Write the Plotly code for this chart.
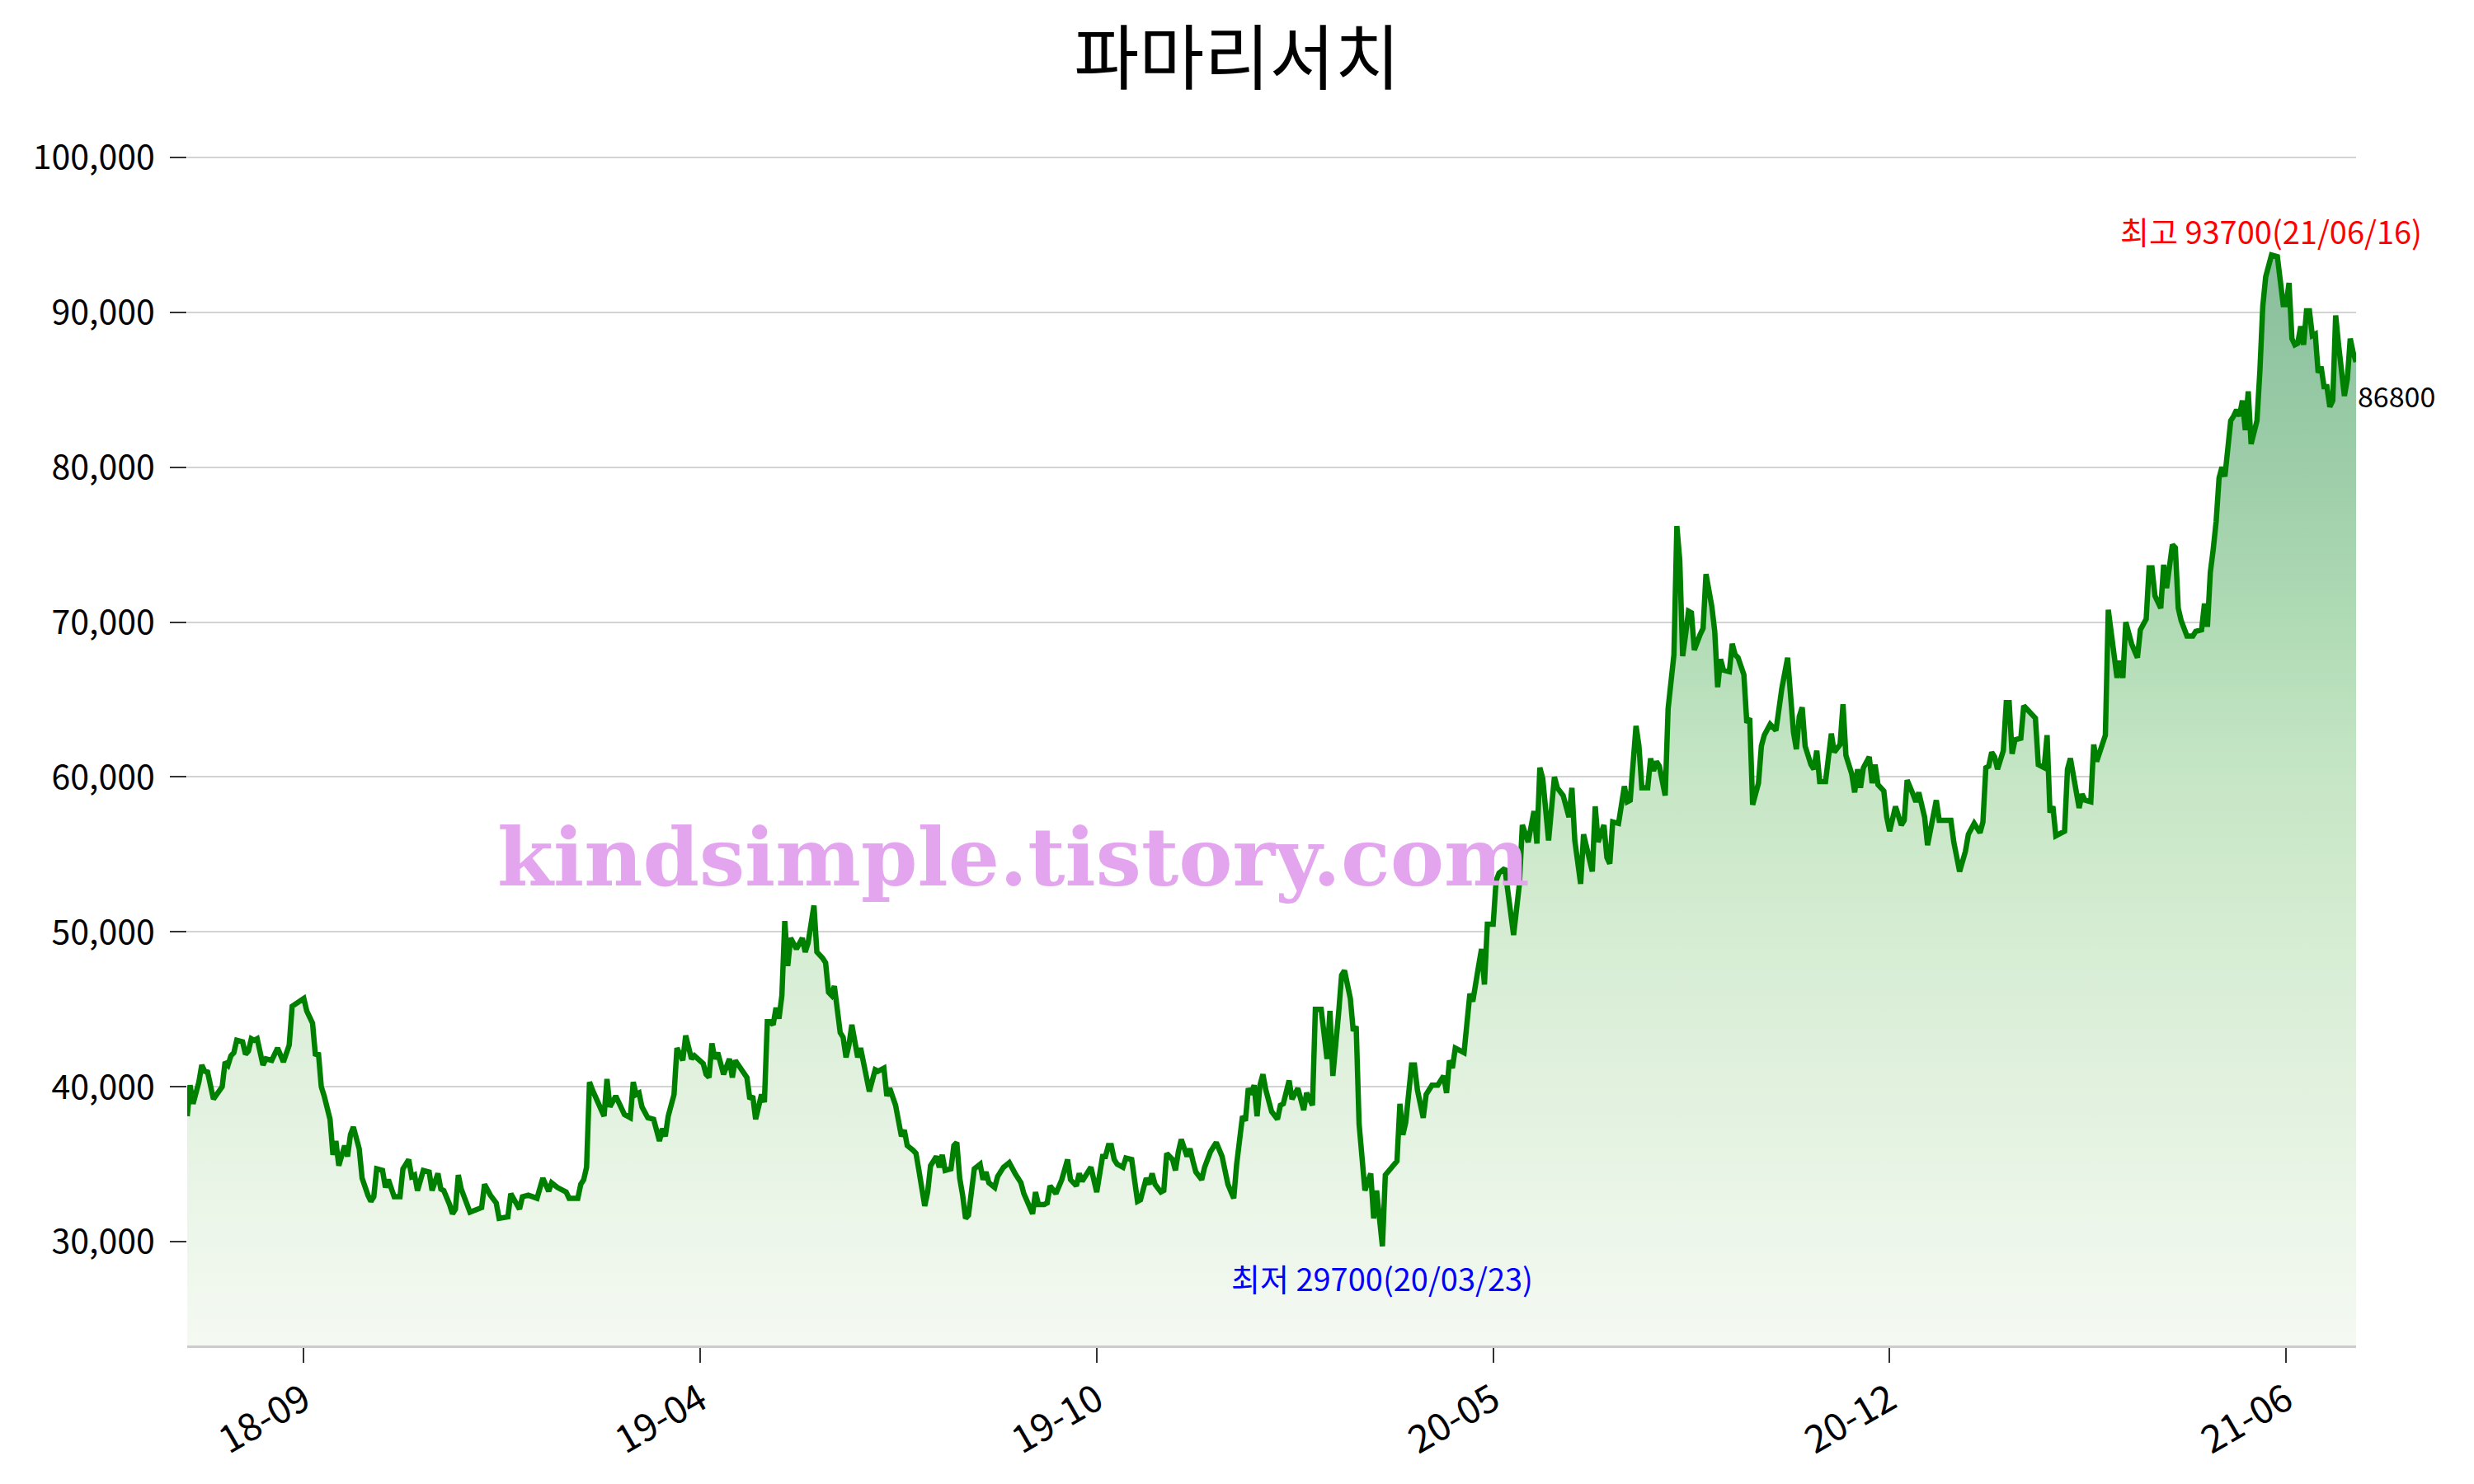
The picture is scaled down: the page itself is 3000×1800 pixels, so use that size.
import plotly.graph_objects as go

# ---------------- data ----------------
title_text = "파마리서치"

day_index = [
    0, 1, 2, 4, 5, 6, 7, 9, 12, 13, 14, 15, 16, 17, 19, 20, 21, 22, 23, 24, 26, 27, 29, 31, 33, 35, 36, 40, 41, 43,
    44, 45, 46, 47, 49, 50, 51, 52, 54, 55, 56, 57, 59, 60, 62, 63, 64, 65, 67, 68, 69, 71, 73, 74, 76, 77, 78, 79,
    81, 83, 84, 86, 87, 88, 90, 91, 92, 93, 94, 97, 101, 102, 104, 106, 107, 110, 111, 112, 114, 115, 117, 120, 122,
    124, 125, 127, 130, 131, 134, 135, 136, 137, 138, 139, 141, 143, 144, 145, 147, 149, 150, 152, 153, 154, 155, 156,
    158, 160, 161, 162, 163, 164, 165, 167, 168, 170, 171, 173, 174, 177, 178, 179, 180, 181, 182, 184, 186, 187, 188,
    190, 192, 193, 194, 195, 196, 197, 198, 199, 200, 201, 202, 203, 204, 205, 206, 207, 209, 211, 212, 213, 215, 216,
    218, 219, 220, 221, 222, 224, 225, 226, 227, 228, 230, 231, 234, 236, 237, 239, 240, 241, 243, 245, 246,
    247, 249, 250, 251, 253, 254, 255, 257, 258, 259, 260, 262, 263, 264, 265, 266, 267, 268, 269, 270, 272, 273, 274,
    275, 277, 278, 280, 282, 284, 285, 286, 287, 288, 290, 291, 292, 294, 295, 296, 297, 298, 300, 302, 303, 305, 306,
    307, 310, 312, 314, 315, 316, 317, 318, 319, 321, 322, 324, 326, 327, 329, 330, 331, 332, 334, 335, 336, 338, 339,
    340, 341, 343, 344, 345, 346, 348, 349, 351, 353, 355, 357, 359, 360, 362, 363, 364, 365, 366, 367, 368, 369, 370,
    371, 372, 374, 375, 376, 378, 379, 381, 383, 384, 386, 387, 389, 391, 392, 393, 395, 396, 397, 399, 400, 401, 402,
    403, 404, 406, 407, 408, 410, 411, 413, 415, 416, 417, 418, 419, 420, 421, 422, 424, 425, 427, 429, 431, 432, 433,
    434, 435, 438, 440, 441, 443, 444, 445, 446, 448, 449, 450, 452, 455, 457, 458, 460, 462, 463, 464, 465, 467, 469,
    470, 472, 474, 475, 476, 478, 479, 482, 483, 484, 486, 487, 488, 489, 491, 493, 494, 495,
    497, 498, 499, 501, 502, 503, 504, 505, 507, 508, 510, 511, 512, 513, 514, 515, 516, 517, 519, 520, 521, 523, 524,
    525, 526, 527, 529, 530, 531, 532, 534, 535, 536, 537, 539, 540, 541, 543, 545, 547, 549, 550, 551, 552, 553, 554,
    555, 557, 558, 559, 560, 562, 563, 564, 565, 567, 568, 569, 571, 572, 573, 574, 575, 577, 578, 579, 580, 582, 583,
    584, 586, 588, 589, 590, 592, 593, 594, 596, 597, 599, 600, 601, 605, 606, 608, 610, 611, 613, 615, 616, 617, 618,
    619, 620, 621, 623, 624, 625, 626, 627, 629, 630, 634, 635, 637, 638, 639, 640, 641, 644, 645, 646, 647, 649, 650,
    651, 653, 654, 655, 658, 659, 661, 662, 663, 664, 665, 667, 669, 670, 672, 673, 674, 675, 677, 678, 679, 681, 682,
    683, 684, 686, 688, 689, 691, 692, 693, 694, 695, 696, 697, 698, 699, 700, 701, 702, 703, 704, 705, 706, 707, 708,
    710, 711, 712, 713, 714, 715, 717, 719, 720, 721, 722, 723, 724, 725, 726, 727, 728, 729, 730, 731, 732, 733, 734,
    735, 736, 737, 738, 740, 741, 742, 743, 744,
]

close_price = [
    38100, 40100, 38900, 40300, 41400, 41000, 40950, 39200, 40000, 41600, 41400, 42000, 42200, 43000, 42900, 42100,
    42300, 43100, 43000, 43100, 41400, 41800, 41700, 42500, 41600, 42700, 45200, 45700, 44900, 44100,
    42000, 42200, 40000, 39400, 37900, 35600, 36500, 34900, 36200, 35500, 36900, 37400, 36000, 34100, 33000, 32600,
    32900, 34700, 34600, 33500, 34000, 32900, 32900, 34700, 35300, 34200, 34300, 33300,
    34600, 34500, 33300, 34400, 33400, 33300, 32400, 31800, 32100, 34300, 33400, 31900, 32200, 33700, 33000, 32500,
    31500, 31600, 33100, 32800, 32100, 32900, 33000, 32800, 34100,
    33250, 33800, 33500, 33200, 32800, 32800, 33700, 34000, 34800, 40300, 39800, 39000, 38100, 40500, 38700, 39400,
    38700, 38200, 38000, 40300, 39500, 39600, 38700,
    38000, 37900, 37200, 36500, 37300, 36800, 38100, 39500, 42500, 41700, 43300, 41800, 42000, 41500, 40800, 40600,
    42800, 41800, 42200, 40800, 41800, 40600, 41700,
    41100, 40600, 39200, 39400, 37900, 38800, 39500, 39000, 44200, 44200, 44000, 45100, 44400, 45900, 50700, 47800,
    49600, 48900, 49600, 48700, 49300, 51700, 48700,
    48300, 48000, 46100, 45900, 46500, 43500, 43200, 41900, 42700, 44000, 41900, 42500, 39700, 41100, 41000, 41200,
    39400, 39900, 38800, 36800, 37200,
    36200, 35900, 35700, 34600, 32300, 33200, 34900, 35500, 34800, 35600, 34600, 34700, 36200, 36400, 34100, 33000,
    31500, 31700, 33600, 34700, 35000, 34000, 34500,
    33800, 33500, 34200, 34800, 35100, 34400, 34000, 33800, 33100, 32700, 31800, 33200, 32400, 32400, 32500, 33600,
    33300, 33100, 34000, 35300, 34000, 33600, 34400,
    33900, 34800, 33200, 35500, 35500, 36200, 36200, 35300, 35000, 34800, 35400, 35300, 32600, 32700, 34100, 33700,
    34400, 33700, 33200, 33300, 35700, 35300, 34600,
    35800, 36600, 35500, 36000, 35200, 34500, 34000, 34800, 35800, 36400, 35500, 33700, 32800, 35000, 38100, 37800,
    39900, 39500, 40100, 38100, 40100, 40800, 39800,
    39000, 38400, 37900, 38800, 38900, 40400, 39200, 39900, 38500, 39600, 38800, 45000, 45000, 41800, 44900, 40700,
    44800, 47200, 47500, 45700, 43600, 43900, 37600,
    35100, 33300, 34400, 31500, 33300, 29700, 34300, 34700, 35200, 38900, 36900, 37700, 39800, 41400, 41400, 39800,
    38000, 39500, 40100, 40100, 40700, 39600, 41700,
    41200, 42500, 42200, 46000, 45500, 47800, 48900, 46600, 50500, 50500, 53300, 53800, 54100, 49800, 53100, 56900,
    55800, 57800, 55700, 60600, 59900, 55900, 60000,
    59300, 58800, 57400, 59300, 55900, 53100, 56300, 53900, 58100, 55800, 56900, 54800, 54400, 57100, 57000, 59400,
    58400, 58500,
    63300, 62000, 59300, 59300, 61200, 60400, 61000, 60700, 58800, 64400, 67900, 76200, 74000, 67800, 69200, 70700,
    70600, 68200, 69200, 69600, 73100, 71000, 69400,
    65800, 67600, 66900, 66800, 68600, 67900, 67700, 66600, 63500, 63800, 58200, 59600, 62000, 62700, 63400, 63000,
    65700, 67700, 65300, 62900, 61800, 63900, 64500,
    62000, 60800, 60500, 61700, 59700, 59700, 61500, 62800, 61600, 62100, 64700, 61400, 60200, 59000, 60500, 59300,
    60600, 61300, 59600, 60800, 59500, 59100, 57400,
    56500, 58100, 56900, 57200, 59800, 58900, 58400, 59000, 57400, 55600, 57400, 58500, 57200, 57200, 55800, 53900,
    55200, 56300, 57000, 56400, 57100, 60600, 60700,
    61600, 61300, 60500, 61700, 64800, 64800, 61500, 62400, 62500, 64600, 63800, 60800, 60600, 62700, 57700, 58100,
    56200, 56500, 60500, 61200, 60100, 58000, 58900,
    58500, 58400, 62100, 61000, 62700, 70800, 68000, 66400, 67500, 66400, 70000, 68600, 67700, 69500, 70200, 73500,
    73500, 71700, 70900, 73700, 72200, 75000, 74800,
    70900, 70100, 69100, 69100, 69400, 69500, 71200, 69700, 73200, 74700, 76500, 79300, 80000, 79400, 81200, 83000,
    83300, 83700, 83300, 84300, 82400, 84900, 81500,
    83000, 86200, 90400, 92300, 93000, 93700, 93600, 90500, 90500, 91900, 88300, 87900, 88000, 89100, 87900, 90100,
    90100, 88500, 88600, 86100, 86500, 85200, 85200,
    83900, 84300, 89800, 87900, 84600, 85700, 88300, 87400, 86800,
]

tick_index = [40, 176, 312, 448, 584, 720]
tick_labels = ["18-09", "19-04", "19-10", "20-05", "20-12", "21-06"]
y_ticks = [30000, 40000, 50000, 60000, 70000, 80000, 90000, 100000]

high_index, high_value, high_date = 715, 93700, "21/06/16"
low_index, low_value, low_date = 410, 29700, "20/03/23"
last_index, last_value = 744, 86800
watermark = "kindsimple.tistory.com"

# ---------------- figure ----------------
FONT = "Noto Sans CJK KR"

fig = go.Figure()
fig.add_trace(go.Scatter(
    x=day_index,
    y=close_price,
    mode="lines",
    line=dict(color="#008000", width=6.5),
    fill="tozeroy",
    fillgradient=dict(
        type="vertical",
        start=23300,
        stop=93700,
        colorscale=[
            [0.00, "rgb(244,249,242)"],
            [0.10, "rgb(237,246,234)"],
            [0.24, "rgb(225,241,222)"],
            [0.38, "rgb(213,236,210)"],
            [0.52, "rgb(198,230,197)"],
            [0.66, "rgb(176,219,181)"],
            [0.81, "rgb(156,205,168)"],
            [1.00, "rgb(137,190,156)"],
        ],
    ),
    hoverinfo="skip",
    showlegend=False,
))

annotations = [
    dict(x=0.381, y=0.400, xref="paper", yref="paper", text="<b>%s</b>" % watermark,
         showarrow=False, font=dict(family="DejaVu Serif", size=98, color="#e3a6ee"),
         xanchor="center", yanchor="middle"),
    dict(x=high_index, y=high_value, xref="x", yref="y",
         text="최고 %d(%s)" % (high_value, high_date), showarrow=False,
         font=dict(family=FONT, size=38, color="red"), xanchor="center", yanchor="middle", yshift=30),
    dict(x=low_index, y=low_value, xref="x", yref="y",
         text="최저 %d(%s)" % (low_value, low_date), showarrow=False,
         font=dict(family=FONT, size=38, color="blue"), xanchor="center", yanchor="middle", yshift=-38),
    dict(x=last_index, y=last_value, xref="x", yref="y",
         text="%d" % last_value, showarrow=False,
         font=dict(family=FONT, size=34, color="black"), xanchor="left", yanchor="middle", yshift=-41),
]

fig.update_layout(
    width=3000,
    height=1800,
    margin=dict(l=227, r=143, t=150, b=168),
    paper_bgcolor="white",
    plot_bgcolor="white",
    font=dict(family=FONT, color="black"),
    title=dict(text=title_text, x=0.5, xref="container", xanchor="center",
               y=1 - 72 / 1800, yref="container", yanchor="middle",
               font=dict(family=FONT, size=86, color="black")),
    annotations=annotations,
    showlegend=False,
)

fig.update_xaxes(
    range=[0, 744],
    tickmode="array",
    tickvals=tick_index,
    ticktext=tick_labels,
    tickangle=-30,
    ticks="outside",
    ticklen=18,
    tickwidth=2,
    tickcolor="#333333",
    tickfont=dict(family=FONT, size=46, color="black"),
    showgrid=False,
    zeroline=False,
    showline=True,
    linecolor="#cccccc",
    linewidth=3,
)

fig.update_yaxes(
    range=[23294, 102182],
    tickmode="array",
    tickvals=y_ticks,
    tickformat=",d",
    ticks="outside",
    ticklen=20,
    tickwidth=2,
    tickcolor="#333333",
    tickfont=dict(family=FONT, size=41, color="black"),
    ticklabelstandoff=10,
    showgrid=True,
    gridcolor="#d3d3d3",
    gridwidth=2,
    zeroline=False,
    showline=False,
)

fig.write_html("out.html", config={"displayModeBar": False},
               post_script="document.body.style.margin='0';")
